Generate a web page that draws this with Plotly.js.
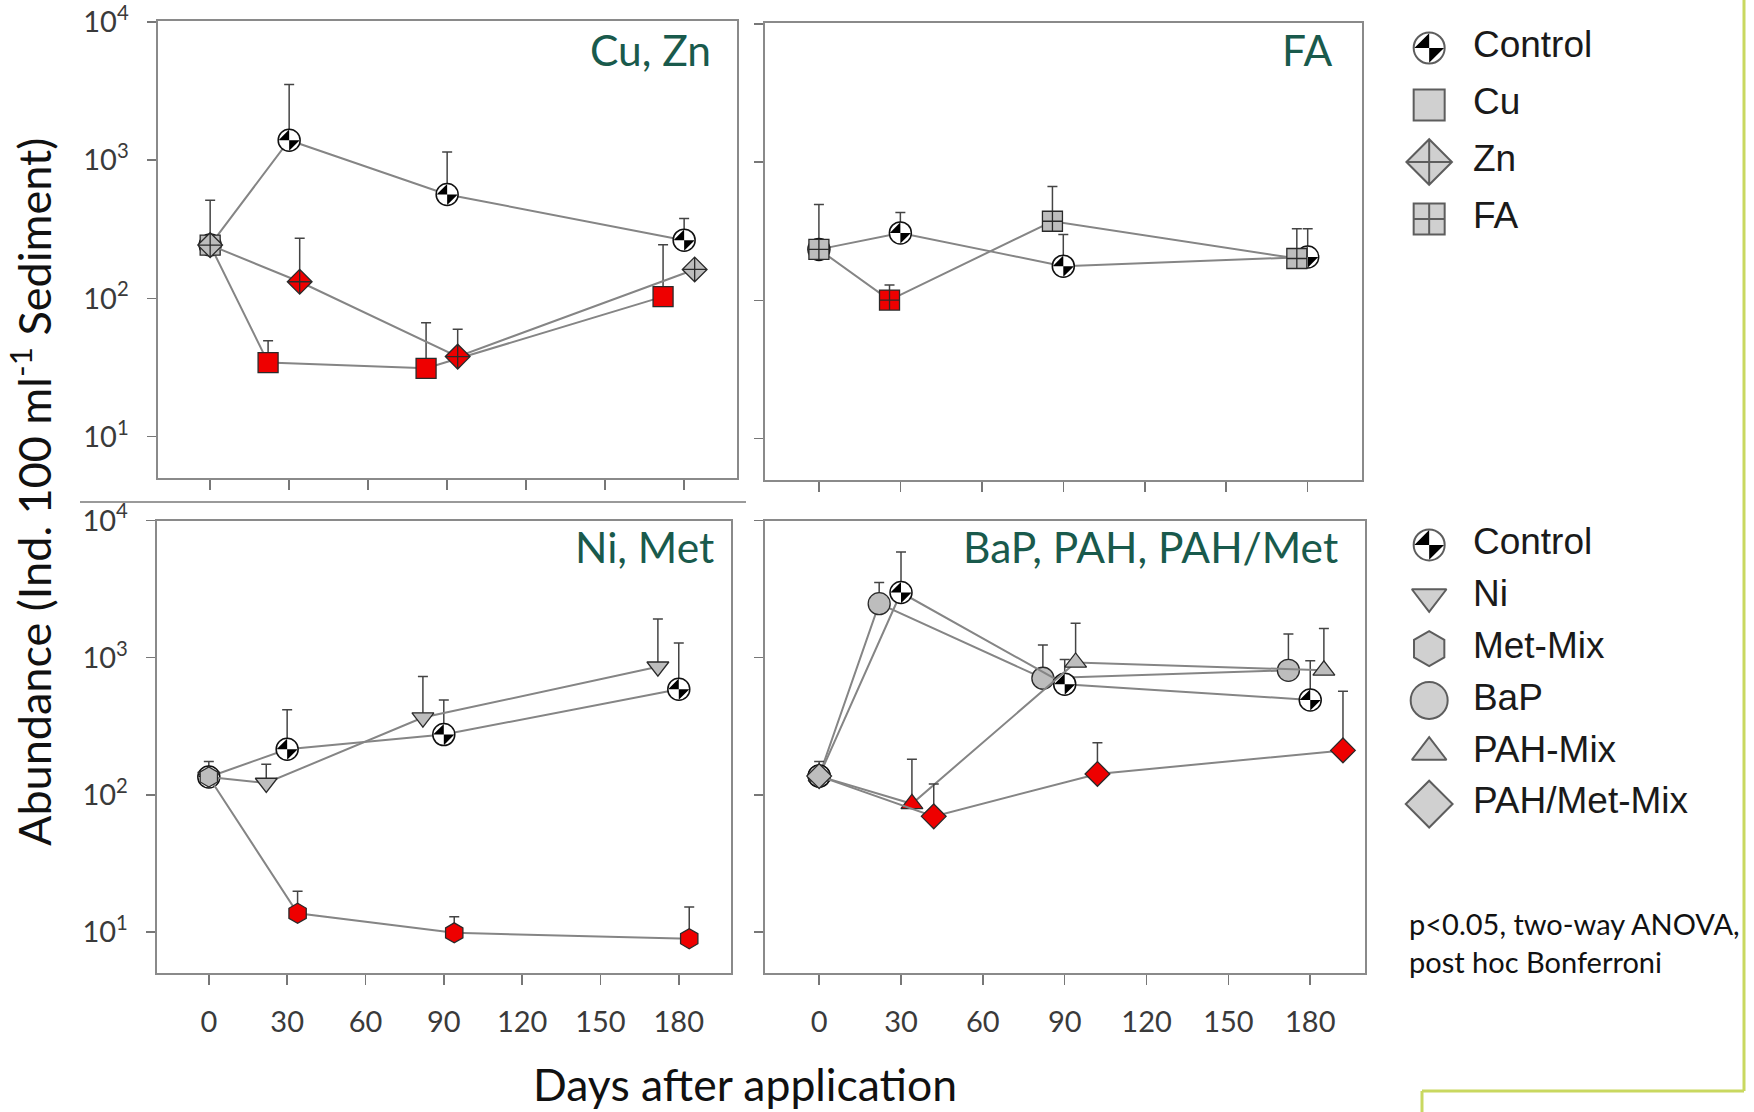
<!DOCTYPE html>
<html>
<head>
<meta charset="utf-8">
<script src="https://cdn.plot.ly/plotly-3.0.1.min.js"></script>
<style>html,body{margin:0;padding:0;background:#fff;}#chart{width:1754px;height:1112px;}</style>
</head>
<body>
<div id="chart"></div>
<script>
// ---------------- DATA ----------------
const xTickVals = [0, 30, 60, 90, 120, 150, 180];
const yTickVals = [10, 100, 1000, 10000];
const yTickText = ['10<sup>1</sup>', '10<sup>2</sup>', '10<sup>3</sup>', '10<sup>4</sup>'];
const panelTitles = ['Cu, Zn', 'FA', 'Ni, Met', 'BaP, PAH, PAH/Met'];

// Panel 1: Cu, Zn
const p1ControlDays = [0, 30, 90, 180];
const p1ControlVals = [243, 1396, 565, 264];
const p1ControlUpper = [514, 3540, 1149, 378];
const p1CuDays = [0, 22, 82, 172];
const p1CuVals = [243, 34.3, 31.2, 103];
const p1CuUpper = [null, 49.4, 66.7, 245];
const p1CuSig = [false, true, true, true];
const p1ZnDays = [0, 34, 94, 184];
const p1ZnVals = [243, 132, 37.9, 162];
const p1ZnUpper = [null, 272, 59.7, null];
const p1ZnSig = [false, true, true, false];

// Panel 2: FA
const p2ControlDays = [0, 30, 90, 180];
const p2ControlVals = [234, 308, 177, 206];
const p2ControlUpper = [494, 433, 300, 330];
const p2FADays = [0, 26, 86, 176];
const p2FAVals = [234, 100.6, 374, 201];
const p2FAUpper = [null, 129, 667, 330];
const p2FASig = [false, true, false, false];

// Panel 3: Ni, Met
const p3ControlDays = [0, 30, 90, 180];
const p3ControlVals = [135, 215, 275, 589];
const p3ControlUpper = [175, 417, 492, 1277];
const p3NiDays = [0, 22, 82, 172];
const p3NiVals = [135, 122, 366, 859];
const p3NiUpper = [null, 167, 728, 1915];
const p3NiSig = [false, false, false, false];
const p3MetDays = [0, 34, 94, 184];
const p3MetVals = [135, 13.7, 9.87, 8.94];
const p3MetUpper = [null, 19.8, 12.9, 15.2];
const p3MetSig = [false, true, true, true];

// Panel 4: BaP, PAH, PAH/Met
const p4ControlDays = [0, 30, 90, 180];
const p4ControlVals = [137, 2985, 641, 492];
const p4ControlUpper = [175, 5900, 968, 949];
const p4BaPDays = [0, 22, 82, 172];
const p4BaPVals = [137, 2477, 708, 809];
const p4BaPUpper = [null, 3527, 1236, 1489];
const p4BaPSig = [false, false, false, false];
const p4PAHDays = [0, 34, 94, 185];
const p4PAHVals = [137, 86.1, 923, 809];
const p4PAHUpper = [null, 182, 1779, 1633];
const p4PAHSig = [false, true, false, false];
const p4PMDays = [0, 42, 102, 192];
const p4PMVals = [137, 69.7, 142, 211];
const p4PMUpper = [null, 120, 240, 569];
const p4PMSig = [false, true, true, true];

// Legends
const legendTopNames = ['Control', 'Cu', 'Zn', 'FA'];
const legendTopSymbols = ['circle', 'square', 'diamond-cross', 'square-cross'];
const legendTopSizes = [31, 31, 35, 31];
const legendBottomNames = ['Control', 'Ni', 'Met-Mix', 'BaP', 'PAH-Mix', 'PAH/Met-Mix'];
const legendBottomSymbols = ['circle', 'triangle-down', 'hexagon', 'circle', 'triangle-up', 'diamond'];
const legendBottomSizes = [31, 30, 35, 37, 30, 36];

// ---------------- STYLE ----------------
const W = 1754, H = 1112;
const px = v => v / W;
const py = v => 1 - v / H;
const RED = '#ee0000', GRAY = '#bdbdbd', LINE = '#858585';
const CALIBRI = 'Lato, "Open Sans", sans-serif';
const ARIAL = '"Liberation Sans", Arial, sans-serif';

const traces = [];

function errY(vals, upper) {
  return {type: 'data', symmetric: false,
          array: upper.map((u, i) => u == null ? NaN : u - vals[i]),
          arrayminus: vals.map(() => 0),
          color: '#444', thickness: 1.5, width: 5};
}
function series(xa, ya, days, vals, upper, sig, symbol, size) {
  traces.push({
    type: 'scatter', mode: 'lines+markers', xaxis: xa, yaxis: ya,
    x: days, y: vals, hoverinfo: 'skip', showlegend: false, cliponaxis: false,
    line: {color: LINE, width: 2},
    marker: {symbol: symbol, size: size, color: sig.map(s => s ? RED : GRAY),
             line: {color: '#2a2a2a', width: 1.3}},
    error_y: errY(vals, upper)
  });
}
function control(xa, ya, days, vals, upper) {
  traces.push({
    type: 'scatter', mode: 'lines+markers', xaxis: xa, yaxis: ya,
    x: days, y: vals, hoverinfo: 'skip', showlegend: false, cliponaxis: false,
    line: {color: LINE, width: 2},
    marker: {symbol: 'circle', size: 22, color: '#ffffff', line: {color: '#111', width: 1.5}},
    error_y: errY(vals, upper)
  });
  traces.push({
    type: 'scatter', mode: 'markers', xaxis: xa, yaxis: ya,
    x: days, y: vals, hoverinfo: 'skip', showlegend: false, cliponaxis: false,
    marker: {symbol: 'bowtie', size: 15, angle: 45, color: '#000', line: {width: 0}}
  });
}

// Panel 1
control('x', 'y', p1ControlDays, p1ControlVals, p1ControlUpper);
series('x', 'y', p1CuDays, p1CuVals, p1CuUpper, p1CuSig, 'square', 20);
series('x', 'y', p1ZnDays, p1ZnVals, p1ZnUpper, p1ZnSig, 'diamond-cross', 19);
// Panel 2
control('x2', 'y2', p2ControlDays, p2ControlVals, p2ControlUpper);
series('x2', 'y2', p2FADays, p2FAVals, p2FAUpper, p2FASig, 'square-cross', 20);
// Panel 3
control('x3', 'y3', p3ControlDays, p3ControlVals, p3ControlUpper);
series('x3', 'y3', p3NiDays, p3NiVals, p3NiUpper, p3NiSig, 'triangle-down', 19);
series('x3', 'y3', p3MetDays, p3MetVals, p3MetUpper, p3MetSig, 'hexagon', 20);
// Panel 4
series('x4', 'y4', p4BaPDays, p4BaPVals, p4BaPUpper, p4BaPSig, 'circle', 22);
control('x4', 'y4', p4ControlDays, p4ControlVals, p4ControlUpper);
series('x4', 'y4', p4PAHDays, p4PAHVals, p4PAHUpper, p4PAHSig, 'triangle-up', 19);
series('x4', 'y4', p4PMDays, p4PMVals, p4PMUpper, p4PMSig, 'diamond', 19);

// Custom legends (placed by category axes)
function legend(xa, ya, names, symbols, sizes) {
  traces.push({
    type: 'scatter', mode: 'markers', xaxis: xa, yaxis: ya,
    x: names.map(() => 0), y: names, hoverinfo: 'skip', showlegend: false, cliponaxis: false,
    marker: {symbol: symbols, size: sizes,
             color: names.map(n => n === 'Control' ? '#ffffff' : GRAY),
             line: {color: '#1a1a1a', width: 2}}
  });
  traces.push({
    type: 'scatter', mode: 'markers', xaxis: xa, yaxis: ya,
    x: names.filter(n => n === 'Control').map(() => 0), y: names.filter(n => n === 'Control'),
    hoverinfo: 'skip', showlegend: false, cliponaxis: false,
    marker: {symbol: 'bowtie', size: 21, angle: 45, color: '#000', line: {width: 0}}
  });
  traces.push({
    type: 'scatter', mode: 'text', xaxis: xa, yaxis: ya,
    x: names.map(() => 1.5), y: names, text: names, textposition: 'middle right',
    hoverinfo: 'skip', showlegend: false, cliponaxis: false,
    textfont: {family: ARIAL, size: 37, color: '#1a1a1a'}
  });
}
legend('x5', 'y5', legendTopNames, legendTopSymbols, legendTopSizes);
legend('x6', 'y6', legendBottomNames, legendBottomSymbols, legendBottomSizes);

// ---------------- LAYOUT ----------------
function xax(domain, labels, anchor) {
  return {domain: domain, anchor: anchor, range: [-20, 200], tickvals: xTickVals, ticks: 'outside', ticklen: 10,
          tickwidth: 1.5, tickcolor: '#777', showline: true, linecolor: '#8a8a8a', linewidth: 2,
          mirror: true, showgrid: false, zeroline: false, showticklabels: labels,
          ticklabelstandoff: 12, tickfont: {family: CALIBRI, size: 29, color: '#3a3a3a'}, fixedrange: true};
}
function yax(domain, labels, top, anchor) {
  return {domain: domain, anchor: anchor, type: 'log', range: [0.70, top], tickvals: yTickVals, ticktext: yTickText,
          ticks: 'outside', ticklen: 9, tickwidth: 1.5, tickcolor: '#777', showline: true,
          linecolor: '#8a8a8a', linewidth: 2, mirror: true, showgrid: false, zeroline: false,
          showticklabels: labels, ticklabelstandoff: 12,
          tickfont: {family: CALIBRI, size: 29, color: '#3a3a3a'}, fixedrange: true};
}
const titleFont = {family: CALIBRI, size: 42.5, color: '#195a4c'};

const layout = {
  width: W, height: H, margin: {l: 0, r: 0, t: 0, b: 0},
  paper_bgcolor: '#ffffff', plot_bgcolor: '#ffffff', showlegend: false,
  font: {family: ARIAL},
  xaxis: xax([px(157.5), px(736.8)], false, 'y'),
  yaxis: yax([py(478), py(20.7)], true, 4.01, 'x'),
  xaxis2: xax([px(764.6), px(1362)], false, 'y2'),
  yaxis2: yax([py(480), py(22.7)], false, 4.01, 'x2'),
  xaxis3: xax([px(156.6), px(731)], true, 'y3'),
  yaxis3: yax([py(973.2), py(520.5)], true, 4.0, 'x3'),
  xaxis4: xax([px(764.6), px(1364.8)], true, 'y4'),
  yaxis4: yax([py(973.2), py(520.5)], false, 4.0, 'x4'),
  xaxis5: {domain: [px(1400), px(1750)], anchor: 'y5', range: [-1, 11], visible: false, fixedrange: true},
  yaxis5: {domain: [py(247.5), py(19.5)], anchor: 'x5', type: 'category', categoryarray: legendTopNames,
           range: [3.5, -0.5], visible: false, fixedrange: true},
  xaxis6: {domain: [px(1400), px(1750)], anchor: 'y6', range: [-1, 11], visible: false, fixedrange: true},
  yaxis6: {domain: [py(830), py(519)], anchor: 'x6', type: 'category', categoryarray: legendBottomNames,
           range: [5.5, -0.5], visible: false, fixedrange: true},
  annotations: [
    {text: panelTitles[0], xref: 'paper', yref: 'paper', x: px(713), y: py(50), xanchor: 'right', yanchor: 'middle', showarrow: false, font: titleFont},
    {text: panelTitles[1], xref: 'paper', yref: 'paper', x: px(1335), y: py(50), xanchor: 'right', yanchor: 'middle', showarrow: false, font: titleFont},
    {text: panelTitles[2], xref: 'paper', yref: 'paper', x: px(716), y: py(546), xanchor: 'right', yanchor: 'middle', showarrow: false, font: titleFont},
    {text: panelTitles[3], xref: 'paper', yref: 'paper', x: px(1340), y: py(546), xanchor: 'right', yanchor: 'middle', showarrow: false, font: titleFont},
    {text: 'Days after application', xref: 'paper', yref: 'paper', x: px(745), y: py(1083), xanchor: 'center', yanchor: 'middle', showarrow: false, font: {family: CALIBRI, size: 44.5, color: '#111'}},
    {text: 'Abundance (Ind. 100 ml<sup>-1</sup> Sediment)', xref: 'paper', yref: 'paper', x: px(31), y: py(492), xanchor: 'center', yanchor: 'middle', textangle: -90, showarrow: false, font: {family: CALIBRI, size: 45, color: '#111'}},
    {text: 'p&lt;0.05, two-way ANOVA,<br>post hoc Bonferroni', xref: 'paper', yref: 'paper', x: px(1407), y: py(943), xanchor: 'left', yanchor: 'middle', align: 'left', showarrow: false, font: {family: CALIBRI, size: 29, color: '#111'}}
  ],
  shapes: [
    {type: 'line', xref: 'paper', yref: 'paper', x0: px(80), x1: px(746), y0: py(502), y1: py(502), line: {color: '#9a9a9a', width: 2}},
    {type: 'line', xref: 'paper', yref: 'paper', x0: px(1744), x1: px(1744), y0: py(0), y1: py(1091), line: {color: '#c9d860', width: 3}},
    {type: 'line', xref: 'paper', yref: 'paper', x0: px(1422), x1: px(1744), y0: py(1091), y1: py(1091), line: {color: '#c9d860', width: 3}},
    {type: 'line', xref: 'paper', yref: 'paper', x0: px(1422), x1: px(1422), y0: py(1091), y1: py(1112), line: {color: '#c9d860', width: 3}}
  ]
};

Plotly.newPlot('chart', traces, layout, {staticPlot: true, displayModeBar: false});
</script>
</body>
</html>
